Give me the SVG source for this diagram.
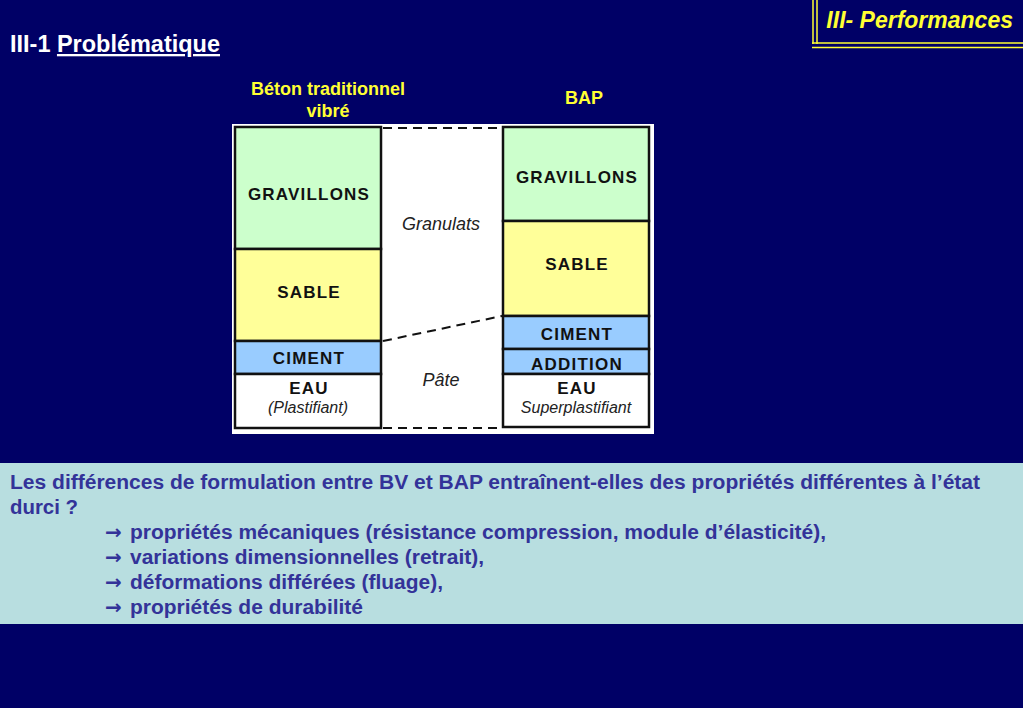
<svg xmlns="http://www.w3.org/2000/svg" width="1023" height="708" viewBox="0 0 1023 708">
<style>
.lbl{font-family:"Liberation Sans",Arial,sans-serif;font-weight:bold;font-size:17px;fill:#111;text-anchor:middle;letter-spacing:1.2px}
.sub{font-family:"Liberation Sans",Arial,sans-serif;font-style:italic;font-size:16px;fill:#222;text-anchor:middle}
.it{font-family:"Liberation Sans",Arial,sans-serif;font-style:italic;font-size:18px;fill:#222;text-anchor:middle}
.ylw{font-family:"Liberation Sans",Arial,sans-serif;font-weight:bold;font-size:18px;fill:#FFFF33;text-anchor:middle}
.body{font-family:"Liberation Sans",Arial,sans-serif;font-weight:bold;font-size:20px;fill:#333399}
.arr{font-family:"DejaVu Sans",sans-serif;font-weight:bold}
.cell{stroke:#111;stroke-width:2.5}
.dash{stroke:#111;stroke-width:2;stroke-dasharray:9,6;fill:none}
</style>
<rect x="0" y="0" width="1023" height="708" fill="#000066"/>
<g id="header">
<line x1="813" y1="0" x2="813" y2="44" stroke="#FFFF33" stroke-width="1.5"/>
<line x1="817" y1="0" x2="817" y2="44" stroke="#FFFF33" stroke-width="1.5"/>
<line x1="812" y1="43" x2="1023" y2="43" stroke="#FFFF33" stroke-width="1.5"/>
<line x1="812" y1="47.5" x2="1023" y2="47.5" stroke="#FFFF33" stroke-width="1.5"/>
<text x="1013" y="28" text-anchor="end" font-family="Liberation Sans,Arial,sans-serif" font-weight="bold" font-style="italic" font-size="23" fill="#FFFF33">III- Performances</text>
</g>
<g id="title">
<text x="10" y="52" font-family="Liberation Sans,Arial,sans-serif" font-weight="bold" font-size="23" fill="#FFFFFF" textLength="210" lengthAdjust="spacingAndGlyphs">III-1 <tspan text-decoration="underline">Problématique</tspan></text>
</g>
<g id="col-labels">
<text class="ylw" x="328" y="95">Béton traditionnel</text>
<text class="ylw" x="328" y="117">vibré</text>
<text class="ylw" x="584" y="104">BAP</text>
</g>
<rect x="232" y="124" width="422" height="310" fill="#FFFFFF"/>
<g id="bv">
<rect class="cell" x="235" y="127" width="146" height="122" fill="#CCFFCC"/>
<rect class="cell" x="235" y="249" width="146" height="92" fill="#FFFF99"/>
<rect class="cell" x="235" y="341" width="146" height="33" fill="#99CCFF"/>
<rect class="cell" x="235" y="374" width="146" height="54" fill="#FFFFFF"/>
<text class="lbl" x="309" y="200">GRAVILLONS</text>
<text class="lbl" x="309" y="298">SABLE</text>
<text class="lbl" x="309" y="364">CIMENT</text>
<text class="lbl" x="309" y="394">EAU</text>
<text class="sub" x="308" y="413">(Plastifiant)</text>
</g>
<g id="bap">
<rect class="cell" x="503" y="127" width="146" height="94" fill="#CCFFCC"/>
<rect class="cell" x="503" y="221" width="146" height="95" fill="#FFFF99"/>
<rect class="cell" x="503" y="316" width="146" height="33" fill="#99CCFF"/>
<rect class="cell" x="503" y="349" width="146" height="25" fill="#99CCFF"/>
<rect class="cell" x="503" y="374" width="146" height="53" fill="#FFFFFF"/>
<text class="lbl" x="577" y="183">GRAVILLONS</text>
<text class="lbl" x="577" y="270">SABLE</text>
<text class="lbl" x="577" y="340">CIMENT</text>
<text class="lbl" x="577" y="370">ADDITION</text>
<text class="lbl" x="577" y="394">EAU</text>
<text class="sub" x="576" y="413">Superplastifiant</text>
</g>
<g id="connectors">
<line class="dash" x1="383" y1="128" x2="502" y2="128"/>
<line class="dash" x1="383" y1="428" x2="502" y2="428"/>
<line class="dash" x1="383" y1="341" x2="502" y2="316"/>
</g>
<g id="zones">
<text class="it" x="441" y="230">Granulats</text>
<text class="it" x="441" y="386">Pâte</text>
</g>
<g id="question">
<rect x="0" y="463" width="1023" height="161" fill="#B8DEE0"/>
<text class="body" x="10" y="489" textLength="970" lengthAdjust="spacingAndGlyphs">Les différences de formulation entre BV et BAP entraînent-elles des propriétés différentes à l’état</text>
<text class="body" x="10" y="514" textLength="68" lengthAdjust="spacingAndGlyphs">durci ?</text>
<text class="body arr" x="105" y="539" font-size="18">→</text>
<text class="body" x="130" y="539" textLength="696" lengthAdjust="spacingAndGlyphs">propriétés mécaniques (résistance compression, module d’élasticité),</text>
<text class="body arr" x="105" y="564" font-size="18">→</text>
<text class="body" x="130" y="564" textLength="354" lengthAdjust="spacingAndGlyphs">variations dimensionnelles (retrait),</text>
<text class="body arr" x="105" y="589" font-size="18">→</text>
<text class="body" x="130" y="589" textLength="313" lengthAdjust="spacingAndGlyphs">déformations différées (fluage),</text>
<text class="body arr" x="105" y="614" font-size="18">→</text>
<text class="body" x="130" y="614" textLength="233" lengthAdjust="spacingAndGlyphs">propriétés de durabilité</text>
</g>
</svg>
